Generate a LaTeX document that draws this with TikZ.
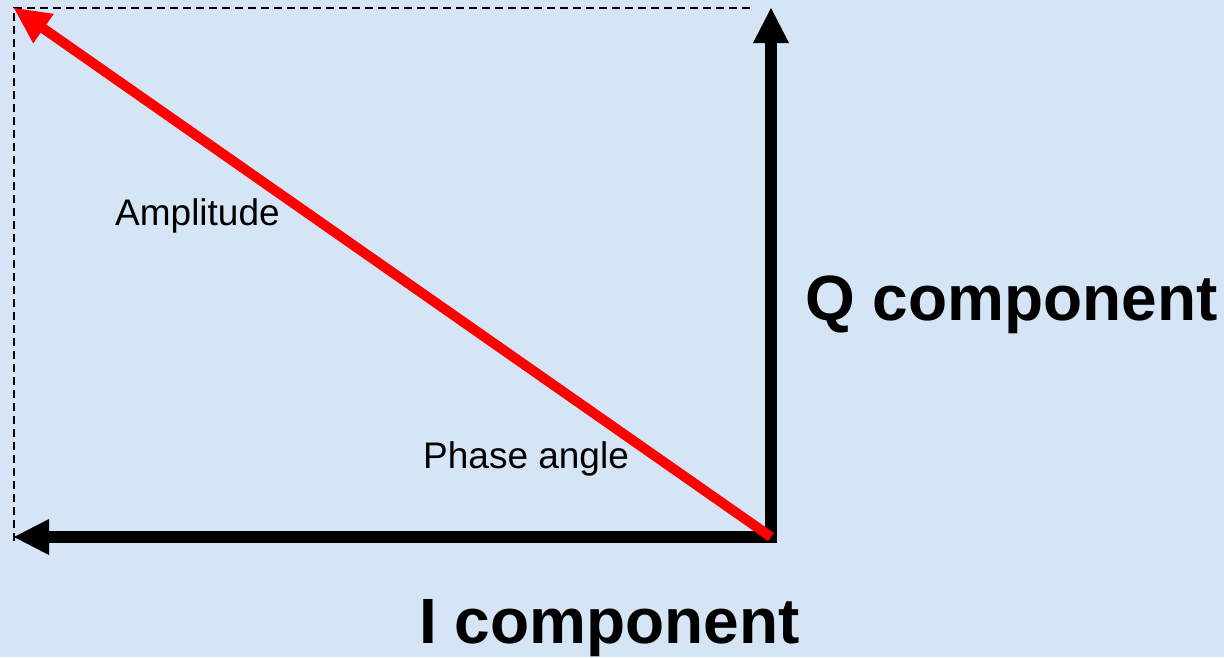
\documentclass[tikz,border=0pt]{standalone}
\usepackage{fontspec}
\setmainfont{Liberation Sans}
\usetikzlibrary{arrows.meta, positioning}

\definecolor{bgblue}{RGB}{214,229,245}

\begin{document}
\begin{tikzpicture}[x=1pt, y=-1pt]
  \tikzset{
    axis/.style={
      draw=black,
      line width=12pt,
      line cap=rect,
      -{Triangle[length=35pt,width=36pt,line width=0pt]}},
    vec/.style={
      draw=red,
      line width=10pt,
      -{Triangle[length=36pt,width=36pt,line width=0pt]}},
    guide/.style={
      draw=black,
      line width=1.2pt,
      dash pattern=on 8pt off 5pt},
    small/.style={
      anchor=base west,
      inner sep=0pt,
      font=\fontsize{37}{40}\selectfont},
    big/.style={
      anchor=base west,
      inner sep=0pt,
      font=\fontsize{64}{70}\selectfont\bfseries}}

  \fill[bgblue] (0,0) rectangle (1224,657);
  \useasboundingbox (0,0) rectangle (1224,657);

  \coordinate (o) at (771,537);
  \coordinate (qtip) at (771,8);
  \coordinate (itip) at (14,537);
  \coordinate (atip) at (14,8);
  \coordinate (gl) at (14,541);
  \coordinate (gr) at (750,8);

  % dashed box
  \draw[guide] (gl) -- (atip) -- (gr);

  \draw[axis] (o) -- (qtip);
  \draw[axis] (o) -- (itip);
  \draw[vec] (o) -- (atip);

  \node[small] (amp) at (115,225) {Amplitude};
  \node[small] (phase) at (423,468) {Phase angle};
  \node[big] (qlab) at (805,320) {Q component};
  \node[big] (ilab) at (419,643) {I component};

\end{tikzpicture}
\end{document}
